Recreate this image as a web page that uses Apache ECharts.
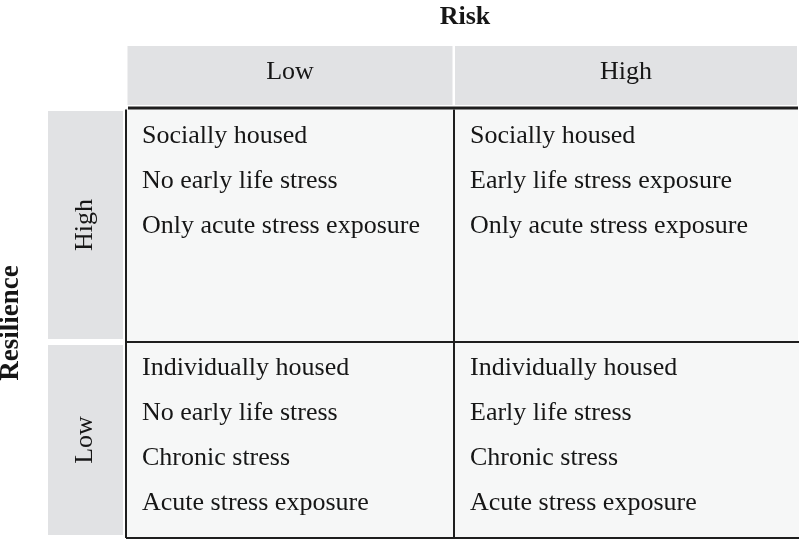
<!DOCTYPE html>
<html>
<head>
<meta charset="utf-8">
<script src="https://cdn.jsdelivr.net/npm/echarts@6/dist/echarts.min.js"></script>
<style>
html, body { margin: 0; padding: 0; background: #ffffff; }
#chart { width: 800px; height: 540px; }
</style>
</head>
<body>
<div id="chart"></div>
<script>
// ---- data ----
const riskLevels = ['Low', 'High'];
const resilienceLevels = ['High', 'Low'];
const highResLowRisk = ['Socially housed', 'No early life stress', 'Only acute stress exposure'];
const highResHighRisk = ['Socially housed', 'Early life stress exposure', 'Only acute stress exposure'];
const lowResLowRisk = ['Individually housed', 'No early life stress', 'Chronic stress', 'Acute stress exposure'];
const lowResHighRisk = ['Individually housed', 'Early life stress', 'Chronic stress', 'Acute stress exposure'];
const xAxisTitle = 'Risk';
const yAxisTitle = 'Resilience';

const cellLines = [
  [highResLowRisk, highResHighRisk],
  [lowResLowRisk, lowResHighRisk]
];

// ---- layout / style ----
const FONT = 'Liberation Serif';
const TEXT = '#161616';
const LINE = '#1e1e1e';
const HEAD_BG = '#e1e2e4';
const CELL_BG = '#f6f7f7';
const colLayout = [{ left: 126, width: 328 }, { left: 454, width: 345 }];
const rowLayout = [{ top: 108, height: 234, textPad: 6 }, { top: 342, height: 196, textPad: 4 }];

const grids = [], xAxes = [], yAxes = [], series = [];

rowLayout.forEach((row, r) => {
  colLayout.forEach((col, c) => {
    const gi = grids.length;
    grids.push({ left: col.left, top: row.top, width: col.width, height: row.height });
    xAxes.push({
      gridIndex: gi, type: 'category', position: 'top', data: [riskLevels[c]],
      axisLine: { show: false }, axisTick: { show: false }, splitLine: { show: false },
      axisLabel: {
        show: r === 0, margin: 3, fontFamily: FONT, fontSize: 26, color: TEXT,
        backgroundColor: HEAD_BG, width: col.width - 3, height: 53, lineHeight: 53,
        padding: [0, 0, 6, 0], align: 'center'
      }
    });
    yAxes.push({
      gridIndex: gi, type: 'category', data: [resilienceLevels[r]],
      axisLine: { show: false }, axisTick: { show: false }, splitLine: { show: false },
      axisLabel: {
        show: c === 0, rotate: 90, margin: 3, fontFamily: FONT, fontSize: 26, color: TEXT,
        backgroundColor: HEAD_BG, width: row.height - 6, height: 75, lineHeight: 75,
        align: 'center'
      }
    });
    const lines = cellLines[r][c];
    series.push({
      type: 'custom',
      coordinateSystem: 'cartesian2d',
      xAxisIndex: gi, yAxisIndex: gi,
      silent: true,
      data: [[riskLevels[c], resilienceLevels[r]]],
      renderItem: (params, api) => {
        const ctr = api.coord([api.value(0), api.value(1)]);
        const sz = api.size([1, 1]);
        const x0 = ctr[0] - sz[0] / 2, y0 = ctr[1] - sz[1] / 2;
        const x1 = x0 + sz[0], y1 = y0 + sz[1];
        return {
          type: 'group',
          children: [
            { type: 'rect', shape: { x: x0, y: y0, width: sz[0], height: sz[1] }, style: { fill: CELL_BG } },
            { type: 'text', style: {
                text: lines.join('\n'), x: x0 + 16, y: y0 + row.textPad, fill: TEXT,
                fontFamily: FONT, fontSize: 26, lineHeight: 44.8, align: 'left', verticalAlign: 'top'
            } },
            { type: 'line', shape: { x1: x0 + (r === 0 && c === 0 ? 2 : 0), y1: y0, x2: x1, y2: y0 },
              style: { stroke: LINE, lineWidth: r === 0 ? 3 : 2 } },
            { type: 'line', shape: { x1: x0, y1: y0 + (r === 0 ? 1.5 : 0), x2: x0, y2: y1 },
              style: { stroke: LINE, lineWidth: 2 } },
            { type: 'line', shape: { x1: x0, y1: y1, x2: x1, y2: y1 },
              style: { stroke: LINE, lineWidth: 2 } }
          ]
        };
      }
    });
  });
});

const chart = echarts.init(document.getElementById('chart'), null, { renderer: 'canvas' });
chart.setOption({
  animation: false,
  backgroundColor: '#ffffff',
  grid: grids,
  xAxis: xAxes,
  yAxis: yAxes,
  series: series,
  graphic: [
    { type: 'text', x: 465, y: 17, silent: true, style: {
        text: xAxisTitle, fontFamily: FONT, fontSize: 26, fontWeight: 'bold', fill: TEXT,
        align: 'center', verticalAlign: 'middle' } },
    { type: 'text', x: 11, y: 323, rotation: Math.PI / 2, silent: true, style: {
        text: yAxisTitle, fontFamily: FONT, fontSize: 27, fontWeight: 'bold', fill: TEXT,
        align: 'center', verticalAlign: 'middle' } }
  ]
});
</script>
</body>
</html>
